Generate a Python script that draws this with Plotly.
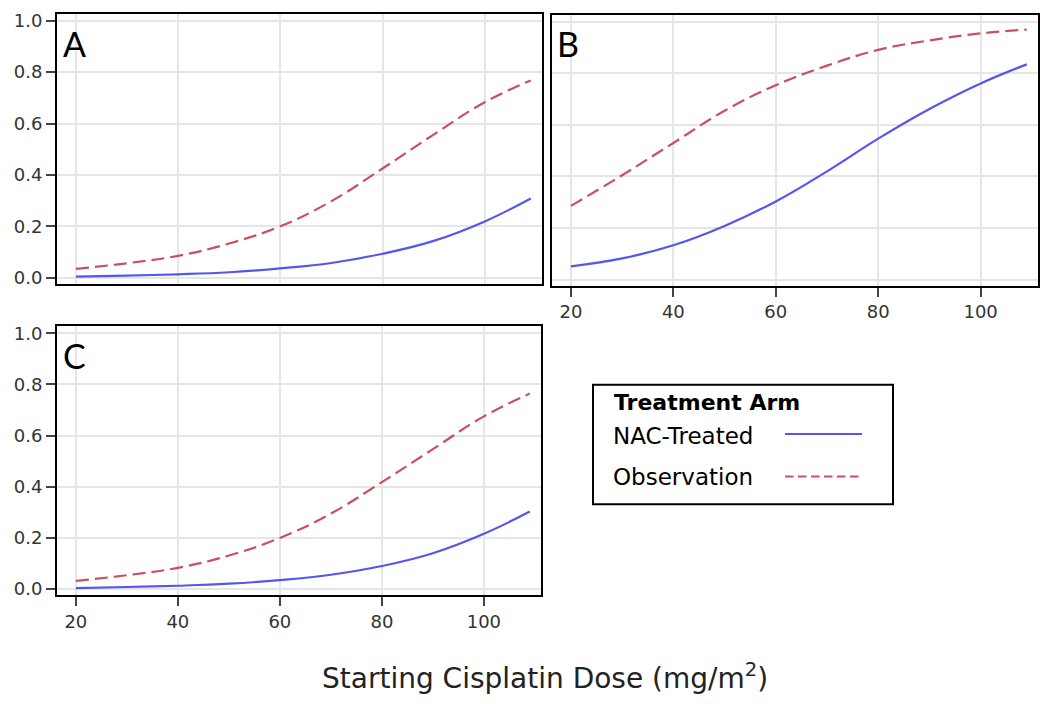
import plotly.graph_objects as go

# ---- data ----
dose = [20, 30, 40, 50, 60, 70, 80, 90, 100, 109]

a_nac = [0.004, 0.008, 0.013, 0.021, 0.036, 0.057, 0.093, 0.143, 0.219, 0.308]
a_obs = [0.034, 0.056, 0.085, 0.133, 0.200, 0.298, 0.425, 0.557, 0.683, 0.768]

b_nac = [0.051, 0.082, 0.133, 0.208, 0.303, 0.420, 0.547, 0.662, 0.761, 0.835]
b_obs = [0.286, 0.405, 0.530, 0.655, 0.754, 0.830, 0.891, 0.928, 0.955, 0.970]

c_nac = [0.004, 0.008, 0.013, 0.021, 0.035, 0.056, 0.090, 0.140, 0.216, 0.303]
c_obs = [0.032, 0.054, 0.083, 0.131, 0.200, 0.295, 0.418, 0.547, 0.675, 0.764]

panel_labels = ["A", "B", "C"]
series_names = ["NAC-Treated", "Observation"]
legend_title = "Treatment Arm"
x_title = "Starting Cisplatin Dose (mg/m<sup>2</sup>)"
x_ticks = [20, 40, 60, 80, 100]
y_ticks = [0.0, 0.2, 0.4, 0.6, 0.8, 1.0]

# ---- styling ----
W, H = 1050, 704
BLUE = "#5656ee"
RED = "#c9505c"
GRID = "#e6e6e6"
FONT = "DejaVu Sans, Arial, sans-serif"


def fx(p):
    return p / W


def fy(p):
    return 1 - p / H


fig = go.Figure()

panels = [
    (a_nac, a_obs, "x", "y"),
    (b_nac, b_obs, "x2", "y2"),
    (c_nac, c_obs, "x3", "y3"),
]
for nac, obs, xa, ya in panels:
    fig.add_trace(go.Scatter(x=dose, y=nac, mode="lines", name=series_names[0],
                             line=dict(color=BLUE, width=2.2, shape="spline", smoothing=1.2),
                             xaxis=xa, yaxis=ya, showlegend=False, hoverinfo="skip"))
    fig.add_trace(go.Scatter(x=dose, y=obs, mode="lines", name=series_names[1],
                             line=dict(color=RED, width=2.2, dash="13px,6px", shape="spline",
                                       smoothing=1.2),
                             xaxis=xa, yaxis=ya, showlegend=False, hoverinfo="skip"))

tickfont = dict(size=18, color="#333", family=FONT)
xcommon = dict(range=[16.3, 111.2], tickvals=x_ticks, showgrid=True, gridcolor=GRID,
               gridwidth=2, showline=True, mirror=True, linecolor="black", linewidth=2,
               zeroline=False, tickfont=tickfont,
               tickcolor="#444", tickwidth=2, ticklen=9)
ycommon = dict(range=[-0.024, 1.027], tickvals=y_ticks, tickformat=".1f", showgrid=True,
               gridcolor=GRID, gridwidth=2, showline=True, mirror=True, linecolor="black",
               linewidth=2, zeroline=False, tickfont=tickfont,
               tickcolor="#444", tickwidth=2, ticklen=9)

fig.update_layout(
    width=W, height=H,
    margin=dict(l=0, r=0, t=0, b=0),
    paper_bgcolor="white", plot_bgcolor="white",
    font=dict(family=FONT, color="#222"),
    showlegend=False,
    xaxis=dict(xcommon, domain=[fx(57), fx(542)], anchor="y", ticks="", showticklabels=False),
    yaxis=dict(ycommon, domain=[fy(283), fy(10)], anchor="x", ticks="outside"),
    xaxis2=dict(xcommon, domain=[fx(552), fx(1038)], anchor="y2", ticks="outside"),
    yaxis2=dict(ycommon, domain=[fy(285), fy(11)], anchor="x2", ticks="", showticklabels=False),
    xaxis3=dict(xcommon, domain=[fx(57), fx(541)], anchor="y3", ticks="outside"),
    yaxis3=dict(ycommon, domain=[fy(598), fy(326)], anchor="x3", ticks="outside"),
)

# panel letters
letter_pos = [(61, 40), (555, 40), (61, 356)]
for lab, (px, py) in zip(panel_labels, letter_pos):
    fig.add_annotation(text=lab, x=fx(px), y=fy(py), xref="paper", yref="paper",
                       xanchor="left", yanchor="middle", showarrow=False,
                       font=dict(size=34, family="Lato, Open Sans, sans-serif", color="black"))

# x-axis title
fig.add_annotation(text=x_title, x=fx(545), y=fy(680), xref="paper", yref="paper",
                   xanchor="center", yanchor="middle", showarrow=False,
                   font=dict(size=28, family=FONT, color="#222"))

# legend box
fig.add_shape(type="rect", xref="paper", yref="paper",
              x0=fx(593), x1=fx(893), y0=fy(506), y1=fy(385),
              line=dict(color="black", width=2), fillcolor="white")
fig.add_annotation(text="<b>" + legend_title + "</b>", x=fx(612), y=fy(403),
                   xref="paper", yref="paper", xanchor="left", yanchor="middle",
                   showarrow=False, font=dict(size=22, family=FONT, color="black"))
fig.add_annotation(text=series_names[0], x=fx(611), y=fy(437),
                   xref="paper", yref="paper", xanchor="left", yanchor="middle",
                   showarrow=False, font=dict(size=23, family=FONT, color="black"))
fig.add_annotation(text=series_names[1], x=fx(611), y=fy(478),
                   xref="paper", yref="paper", xanchor="left", yanchor="middle",
                   showarrow=False, font=dict(size=23, family=FONT, color="black"))
fig.add_shape(type="line", xref="paper", yref="paper",
              x0=fx(785), x1=fx(862), y0=fy(435), y1=fy(435),
              line=dict(color=BLUE, width=2))
fig.add_shape(type="line", xref="paper", yref="paper",
              x0=fx(785), x1=fx(862), y0=fy(478), y1=fy(478),
              line=dict(color=RED, width=2, dash="8.5px,4.5px"))

fig.write_html("out.html", config={"displayModeBar": False},
               post_script="document.body.style.margin='0';document.body.style.overflow='hidden';")
